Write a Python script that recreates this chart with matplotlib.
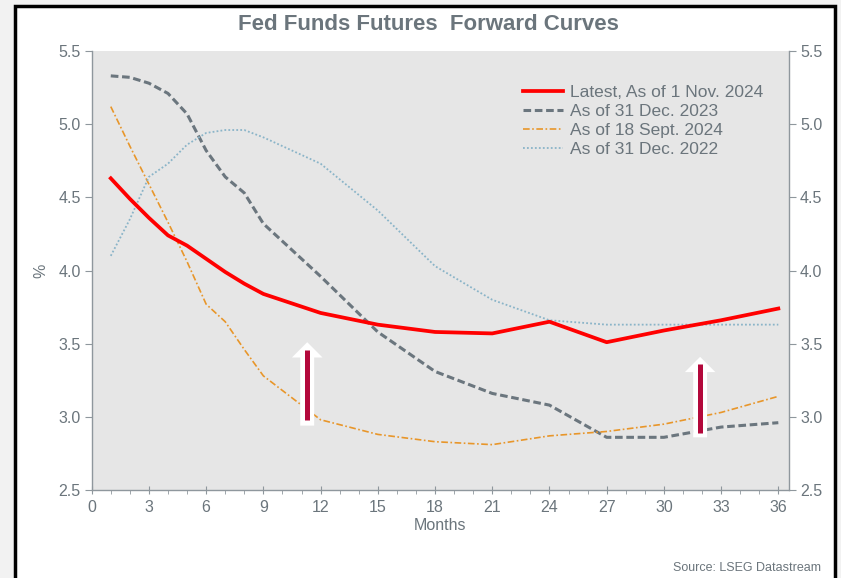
import matplotlib
matplotlib.use("Agg")
import matplotlib.pyplot as plt
from matplotlib import font_manager
from matplotlib.patches import Rectangle
from matplotlib.ticker import MultipleLocator, FormatStrFormatter

# months along the curve
months = [1, 2, 3, 4, 5, 6, 7, 8, 9, 12, 15, 18, 21, 24, 27, 30, 33, 36]

latest_nov24 = [4.63, 4.49, 4.36, 4.24, 4.17, 4.08, 3.99, 3.91, 3.84,
                3.71, 3.63, 3.58, 3.57, 3.65, 3.51, 3.59, 3.66, 3.74]
dec23 = [5.33, 5.32, 5.28, 5.21, 5.07, 4.82, 4.64, 4.53, 4.32,
         3.96, 3.58, 3.31, 3.16, 3.08, 2.86, 2.86, 2.93, 2.96]
sep24 = [5.12, 4.85, 4.59, 4.33, 4.06, 3.77, 3.65, 3.46, 3.28,
         2.98, 2.88, 2.83, 2.81, 2.87, 2.90, 2.95, 3.03, 3.14]
dec22 = [4.10, 4.35, 4.64, 4.73, 4.86, 4.94, 4.96, 4.96, 4.91,
         4.73, 4.41, 4.03, 3.80, 3.66, 3.63, 3.63, 3.63, 3.63]

labels = ["Latest, As of 1 Nov. 2024", "As of 31 Dec. 2023",
          "As of 18 Sept. 2024", "As of 31 Dec. 2022"]

names = {f.name for f in font_manager.fontManager.ttflist}
narrow = "Liberation Sans Narrow" if "Liberation Sans Narrow" in names else "Liberation Sans"
txt = "#6b757c"
axc = "#8f979d"

fig = plt.figure(figsize=(8.41, 5.78), dpi=100, facecolor="#f2f2f2")
fig.patches.append(Rectangle((15/841, -0.05), 820/841, 1.05 - 6/578,
                             transform=fig.transFigure, facecolor="white",
                             edgecolor="black", linewidth=2.5, zorder=-5))

ax = fig.add_axes([91.7/841, 1 - 490/578, 697.3/841, 439/578])
ax.set_zorder(2)
ax.set_facecolor("#e6e6e6")

ax.plot(months, latest_nov24, color="#ff0000", lw=2.7, label=labels[0], zorder=5)
ax.plot(months, dec23, color="#6b767e", lw=2.2, dashes=(2.5, 1.2), label=labels[1])
ax.plot(months, sep24, color="#e8962a", lw=1.2, dashes=(4, 1.5, 1, 1.5), label=labels[2])
ax.plot(months, dec22, color="#8ab4c8", lw=1.3, dashes=(1, 1.2), label=labels[3])

# arrows
for xa, y0, y1, b0, b1 in [(11.3, 2.94, 3.51, 2.98, 3.46), (31.9, 2.86, 3.41, 2.89, 3.36)]:
    ax.annotate("", xy=(xa, y1), xytext=(xa, y0),
                arrowprops=dict(arrowstyle="simple,head_width=2.2,head_length=1.1,tail_width=1.0",
                                fc="white", ec="none", shrinkA=0, shrinkB=0,
                                mutation_scale=10), zorder=6)
    ax.plot([xa, xa], [b0, b1], color="#b3083b", lw=3.6, solid_capstyle="butt", zorder=7)

ax.set_xlim(0, 36.56)
ax.set_ylim(2.5, 5.5)
ax.xaxis.set_major_locator(MultipleLocator(3))
ax.xaxis.set_minor_locator(MultipleLocator(1))
ax.yaxis.set_major_locator(MultipleLocator(0.5))
ax.yaxis.set_major_formatter(FormatStrFormatter("%.1f"))
ax.tick_params(axis="y", which="major", direction="out", length=5, color=axc,
               labelcolor=txt, labelsize=11.5, left=True, right=True,
               labelleft=True, labelright=True, pad=3)
ax.tick_params(axis="x", which="major", direction="inout", length=6, color=axc,
               labelcolor=txt, labelsize=11.5, pad=4)
ax.tick_params(axis="x", which="minor", direction="out", length=3, color=axc)
for t in ax.yaxis.get_major_ticks() + ax.xaxis.get_major_ticks():
    t.label1.set_family(narrow)
    t.label2.set_family(narrow)

for s in ["left", "right", "bottom"]:
    ax.spines[s].set_color(axc)
    ax.spines[s].set_linewidth(1.0)
ax.spines["top"].set_visible(False)

ax.set_xlabel("Months", color=txt, fontsize=11.5, family=narrow, labelpad=2)
ax.set_ylabel("%", color=txt, fontsize=11.5, family=narrow, labelpad=7)

leg = ax.legend(loc="upper left", bbox_to_anchor=(0.608, 0.938), frameon=False,
                fontsize=12.5, handlelength=2.3, handletextpad=0.45,
                labelspacing=0.22, borderaxespad=0)
for t in leg.get_texts():
    t.set_color(txt)
    t.set_family("Liberation Sans")

fig.text(428/841, 1 - 24/578, "Fed Funds Futures  Forward Curves", ha="center",
         va="center", fontsize=16, fontweight="bold", color="#6b757c", family=narrow)
fig.text(821/841, 1 - 568/578, "Source: LSEG Datastream", ha="right", va="center",
         fontsize=9, color=txt, family=narrow)

fig.savefig("out.png", dpi=100, facecolor=fig.get_facecolor())
